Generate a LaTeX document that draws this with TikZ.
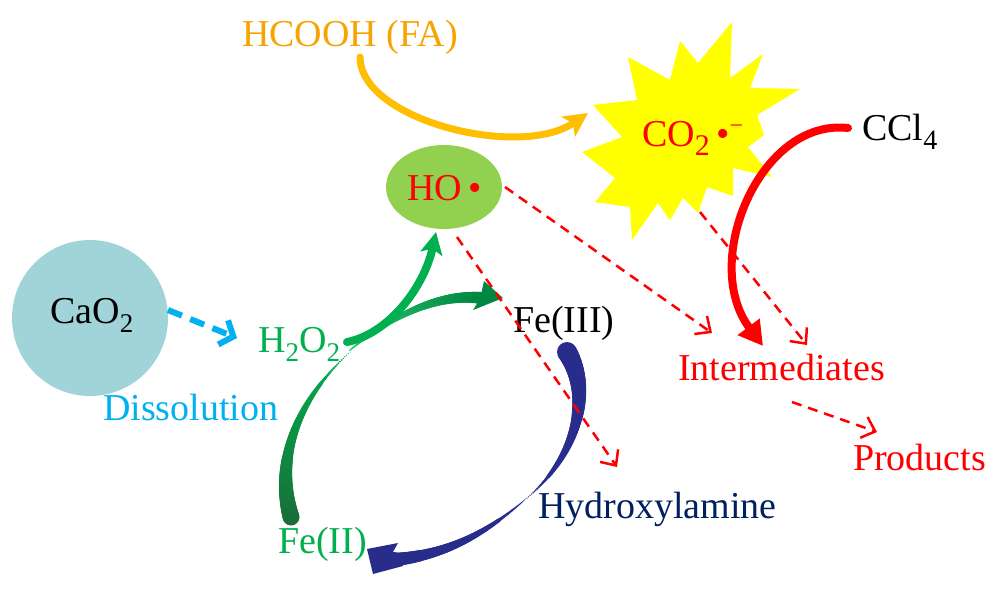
\documentclass[tikz,border=0pt]{standalone}
\usepackage{fontspec}
\setmainfont{Liberation Serif}
\usetikzlibrary{arrows.meta,shapes.geometric}
\definecolor{faText}{RGB}{247,163,0}
\definecolor{faArrow}{RGB}{255,190,0}
\definecolor{redc}{RGB}{255,0,0}
\definecolor{starY}{RGB}{255,255,0}
\definecolor{hoFill}{RGB}{146,208,80}
\definecolor{caoFill}{RGB}{160,212,216}
\definecolor{blueD}{RGB}{0,176,240}
\definecolor{greenT}{RGB}{0,176,80}
\definecolor{greenDark}{RGB}{25,110,55}
\definecolor{greenLight}{RGB}{40,200,110}
\definecolor{greenHead}{RGB}{0,135,65}
\definecolor{navyA}{RGB}{40,45,140}
\definecolor{navyT}{RGB}{0,32,96}
\newcommand\sbs[2]{\raisebox{-0.26em}{\fontsize{#1}{#1}\selectfont #2}}
\newcommand\supm{\raisebox{0.32em}{\fontsize{24}{24}\selectfont −}}
\tikzset{
  lbl/.style={font=\fontsize{38}{40}\selectfont, inner sep=0pt, anchor=base west},
  reddash/.style={draw=redc, line width=2.5pt, dash pattern=on 10pt off 7pt,
    -{Straight Barb[length=12pt,width=22pt]}},
  bluedash/.style={draw=blueD, line width=6pt, dash pattern=on 15pt off 9pt,
    -{Straight Barb[length=11pt,width=26pt]}},
}
\begin{document}
\begin{tikzpicture}[x=1pt,y=-1pt]
\useasboundingbox (0,0) rectangle (1000,590);

% starburst
\fill[starY] (732,22) -- (730,78) -- (763,54) -- (750,88) -- (800,89) -- (757,115) -- (764,135) -- (748,147) -- (772,177) -- (733,168) -- (733,196) -- (707,187) -- (698,213) -- (683,198) -- (670,220) -- (658,203) -- (632,240) -- (630,207) -- (595,202) -- (615,178) -- (582,152) -- (622,137) -- (593,105) -- (637,100) -- (628,57) -- (670,80) -- (680,41) -- (698,63) -- cycle;

% shapes
\node[circle, fill=caoFill, minimum size=156pt, inner sep=0pt] (cao) at (90,318) {};
\node[ellipse, fill=hoFill, minimum width=116pt, minimum height=84pt, inner sep=0pt] (ho) at (444,187) {};

% labels
\node[lbl, text=faText] (fa) at (242,46) {HCOOH (FA)};
\node[lbl, text=redc] (co2) at (642,146) {CO\sbs{30}{2}\,•\supm};
\node[lbl, text=black] (ccl) at (862,140) {CCl\sbs{28}{4}};
\node[lbl, text=redc] (hot) at (407,200) {HO\,•};
\node[lbl, text=black] (caot) at (50,323) {CaO\sbs{27}{2}};
\node[lbl, text=blueD] (dis) at (103,420) {Dissolution};
\node[lbl, text=greenT] (h2o2) at (258,352) {H\sbs{27}{2}O\sbs{27}{2}};
\node[lbl, text=black] (fe3) at (513,332) {Fe(III)};
\node[lbl, text=greenT] (fe2) at (278,553) {Fe(II)};
\node[lbl, text=navyT] (hyd) at (538,518) {Hydroxylamine};
\node[lbl, text=redc] (inter) at (678,380) {Intermediates};
\node[lbl, text=redc] (prod) at (853,470) {Products};

% coordinates for connector ends
\coordinate (caoOut) at (168,310);
\coordinate (h2o2In) at (237,338);
\coordinate (faOut) at (360,57);
\coordinate (co2In) at (588,113);
\coordinate (cclOut) at (848,128);
\coordinate (interIn) at (763,346);
\coordinate (hoOutA) at (505,187);
\coordinate (interInA) at (712,333);
\coordinate (hoOutB) at (457,237);
\coordinate (hydIn) at (617,467);
\coordinate (co2Out) at (700,212);
\coordinate (interInB) at (807,345);
\coordinate (interOut) at (792,402);
\coordinate (prodIn) at (877,432);
\coordinate (h2o2Out) at (347,342);
\coordinate (hoIn) at (436,232);

% dashed blue
\draw[bluedash] (caoOut) -- (h2o2In);

% orange arrow
\draw[faArrow, line width=7pt, line cap=round, -{Stealth[length=24pt,width=24pt,inset=6pt]}]
  (faOut) .. controls (360,120) and (520,160) .. (co2In);

% red CCl4 arrow
\draw[redc, line width=8pt, line cap=round, -{Triangle[length=24pt,width=26pt]}]
  (cclOut) .. controls (760,118) and (700,262) .. (interIn);

% dashed red arrows
\draw[reddash] (hoOutA) -- (interInA);
\draw[reddash] (co2Out) -- (interInB);
\draw[reddash] (interOut) -- (prodIn);

% green arc Fe(II) -> H2O2 (tapered)
\foreach \i in {0,...,100} {
  \pgfmathsetmacro\t{\i/100}
  \pgfmathtruncatemacro\p{100-\i}
  \pgfmathsetmacro\r{0.5+8*(1-\t)}
  \path (291,517) .. controls (276,465) and (292,405) .. (350,352) coordinate[pos=\t] (gp);
  \fill[greenDark!\p!greenT] (gp) circle[radius=\r pt];
}
% green arrow H2O2 -> Fe(III) (tapered)
\foreach \i in {0,...,100} {
  \pgfmathsetmacro\t{\i/100}
  \pgfmathtruncatemacro\p{100-\i}
  \pgfmathsetmacro\r{1+5*\t}
  \path (350,350) .. controls (390,318) and (435,293) .. (482,298) coordinate[pos=\t] (fp);
  \fill[greenLight!\p!greenHead] (fp) circle[radius=\r pt];
}
\fill[greenHead] (484,281) -- (503,298) -- (473,310) -- (480,299) -- cycle;

% green arrow H2O2 -> HO
\draw[greenT, line width=8pt, line cap=round, -{Stealth[length=22pt,width=22pt,inset=5pt]}]
  (h2o2Out) .. controls (388,334) and (424,288) .. (hoIn);

% navy arc Fe(III) -> Fe(II)
\foreach \i in {0,...,100} {
  \pgfmathsetmacro\t{\i/100}
  \pgfmathsetmacro\r{0.5+9.5*(1-\t)}
  \path (567,352) .. controls (592,392) and (578,455) .. (527,498) coordinate[pos=\t] (np);
  \fill[navyA] (np) circle[radius=\r pt];
}
\foreach \i in {0,...,100} {
  \pgfmathsetmacro\t{\i/100}
  \pgfmathsetmacro\r{0.5+6*\t}
  \path (527,498) .. controls (490,530) and (452,553) .. (400,559) coordinate[pos=\t] (mp);
  \fill[navyA] (mp) circle[radius=\r pt];
}
\fill[navyA] (367,549) -- (398,543) -- (393,552) -- (403,553) -- (403,566) -- (373,574) -- cycle;

% dashed red HO -> Hydroxylamine (drawn over navy)
\draw[reddash] (hoOutB) -- (hydIn);
\end{tikzpicture}
\end{document}
